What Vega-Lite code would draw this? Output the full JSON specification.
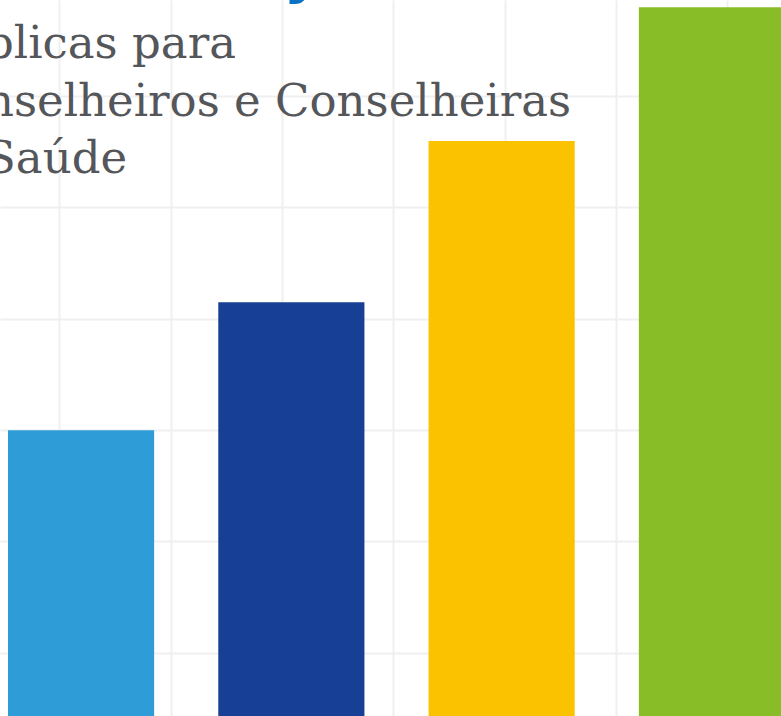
{
  "$schema": "https://vega.github.io/schema/vega-lite/v6.json",
  "width": 781,
  "height": 716,
  "autosize": {"type": "none"},
  "padding": 0,
  "background": "#ffffff",
  "config": {"view": {"stroke": null}},
  "title": {
    "text": ["blicas para", "\u00a0nselheiros e Conselheiras", "\u00a0\u2009Saúde"],
    "anchor": "start",
    "frame": "group",
    "orient": "top",
    "offset": 0,
    "baseline": "alphabetic",
    "dy": 276,
    "dx": -15,
    "lineHeight": 57.5,
    "font": "DejaVu Serif",
    "fontSize": 45,
    "fontWeight": "normal",
    "color": "#55565a"
  },
  "data": {
    "values": [
      {"cat": "A", "value": 39.9},
      {"cat": "B", "value": 57.8},
      {"cat": "C", "value": 80.3},
      {"cat": "D", "value": 99.0}
    ]
  },
  "layer": [
    {
      "mark": {"type": "point", "opacity": 0},
      "encoding": {
        "x": {
          "field": "value",
          "type": "quantitative",
          "scale": {"domain": [0, 100], "nice": false, "zero": false},
          "axis": {
            "values": [7.59, 21.84, 36.09, 50.35, 64.6, 78.85, 93.1],
            "grid": true,
            "gridColor": "#f0f0f0",
            "gridWidth": 2,
            "labels": false,
            "ticks": false,
            "domain": false,
            "title": "j",
            "titleColor": "#0a72c4",
            "titleFont": "DejaVu Sans",
            "titleFontWeight": "bold",
            "titleFontSize": 60,
            "titleAlign": "left",
            "titleBaseline": "alphabetic",
            "titleX": 291,
            "titleY": -726
          }
        },
        "y": {"field": "value", "type": "quantitative"}
      }
    },
    {
      "mark": {"type": "bar", "clip": true},
      "encoding": {
        "x": {
          "field": "cat",
          "type": "nominal",
          "scale": {"range": [8, 785], "paddingInner": 0.305, "paddingOuter": 0},
          "axis": null
        },
        "y": {
          "field": "value",
          "type": "quantitative",
          "scale": {"domain": [0, 100], "nice": false},
          "axis": {
            "values": [8.84, 24.39, 39.94, 55.49, 71.04, 86.59],
            "grid": true,
            "gridColor": "#f0f0f0",
            "gridWidth": 2,
            "labels": false,
            "ticks": false,
            "domain": false,
            "title": null
          }
        },
        "color": {
          "field": "cat",
          "type": "nominal",
          "scale": {"domain": ["A", "B", "C", "D"], "range": ["#2e9dd7", "#173f95", "#fbc200", "#88bd28"]},
          "legend": null
        }
      }
    }
  ],
  "resolve": {"scale": {"x": "independent"}, "axis": {"x": "independent"}}
}
